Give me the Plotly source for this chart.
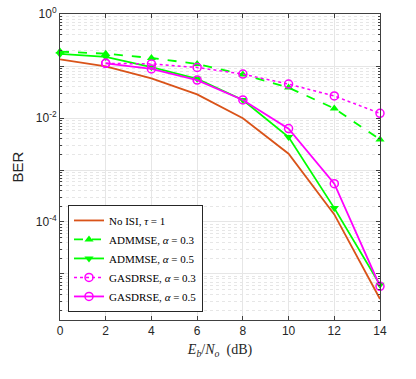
import plotly.graph_objects as go

snr_db = [0, 2, 4, 6, 8, 10, 12, 14]
snr_db_gas = [2, 4, 6, 8, 10, 12, 14]

ber_no_isi = [0.135, 0.099, 0.058, 0.0286, 0.0099, 0.00206, 1.4e-4, 3.3e-6]
ber_adm_03 = [0.19, 0.173, 0.143, 0.110, 0.069, 0.0385, 0.0153, 0.00386]
ber_adm_05 = [0.171, 0.150, 0.095, 0.057, 0.0223, 0.0043, 1.85e-4, 6.2e-6]
ber_gas_03 = [0.113, 0.110, 0.094, 0.070, 0.045, 0.0266, 0.0123]
ber_gas_05 = [0.113, 0.088, 0.0537, 0.0223, 0.00626, 5.46e-4, 5.78e-6]

y_tickvals = [1, 1e-1, 1e-2, 1e-3, 1e-4, 1e-5]
y_ticktext = ["10<sup>0</sup>", "", "10<sup>-2</sup>", "", "10<sup>-4</sup>", ""]

ORANGE = "#D95319"
GREEN = "#00FF00"
MAGENTA = "#FF00FF"

fig = go.Figure()
fig.add_trace(go.Scatter(
    x=snr_db, y=ber_no_isi, mode="lines", name="No ISI, <i>τ</i> = 1",
    line=dict(color=ORANGE, width=1.8), cliponaxis=False,
))
fig.add_trace(go.Scatter(
    x=snr_db, y=ber_adm_03, mode="lines+markers", name="ADMMSE, <i>α</i> = 0.3",
    line=dict(color=GREEN, width=1.8, dash="dash"),
    marker=dict(symbol="triangle-up", size=8, color=GREEN), cliponaxis=False,
))
fig.add_trace(go.Scatter(
    x=snr_db, y=ber_adm_05, mode="lines+markers", name="ADMMSE, <i>α</i> = 0.5",
    line=dict(color=GREEN, width=1.8),
    marker=dict(symbol="triangle-down", size=8, color=GREEN), cliponaxis=False,
))
fig.add_trace(go.Scatter(
    x=snr_db_gas, y=ber_gas_03, mode="lines+markers", name="GASDRSE, <i>α</i> = 0.3",
    line=dict(color=MAGENTA, width=1.5, dash="dot"),
    marker=dict(symbol="circle-open", size=8, color=MAGENTA, line=dict(width=1.5)),
    cliponaxis=False,
))
fig.add_trace(go.Scatter(
    x=snr_db_gas, y=ber_gas_05, mode="lines+markers", name="GASDRSE, <i>α</i> = 0.5",
    line=dict(color=MAGENTA, width=1.8),
    marker=dict(symbol="circle-open", size=8, color=MAGENTA, line=dict(width=1.5)),
    cliponaxis=False,
))

axis_common = dict(
    showline=True, linecolor="#404040", linewidth=1, mirror="allticks",
    ticks="inside", ticklen=4, tickcolor="#404040",
    gridcolor="#e6e6e6", zeroline=False, automargin=False,
    ticklabeloverflow="allow",
    tickfont=dict(family="Liberation Sans, Arial", size=12, color="#262626"),
)

fig.update_xaxes(
    range=[0, 14], tickvals=snr_db,
    title=dict(text="<i>E<sub>b</sub></i>/<i>N<sub>o</sub></i>  (dB)",
               font=dict(family="Liberation Serif, serif", size=14, color="#262626"),
               standoff=6),
    **axis_common,
)
fig.update_yaxes(
    type="log", range=[-5.886, 0.002],
    tickvals=y_tickvals, ticktext=y_ticktext,
    minor=dict(dtick="D1", showgrid=True, gridcolor="#e6e6e6", griddash="dot",
               ticks="inside", ticklen=2, tickcolor="#404040"),
    title=dict(text="BER", font=dict(family="Liberation Sans, Arial", size=15, color="#262626"),
               standoff=8),
    **axis_common,
)

fig.update_layout(
    width=416, height=379,
    margin=dict(l=60, r=36, t=14, b=59),
    plot_bgcolor="white", paper_bgcolor="white",
    legend=dict(
        x=0.025, y=0.376, xanchor="left", yanchor="top",
        bgcolor="white", bordercolor="#262626", borderwidth=1,
        font=dict(family="Liberation Serif, serif", size=11, color="#000000"),
        tracegroupgap=0, itemwidth=30,
    ),
    showlegend=True,
)

# drop the page's default body margin so the figure sits at the window origin
fig.write_html(
    "out.html",
    config={"displayModeBar": False},
    post_script="document.body.style.margin='0px';",
)
